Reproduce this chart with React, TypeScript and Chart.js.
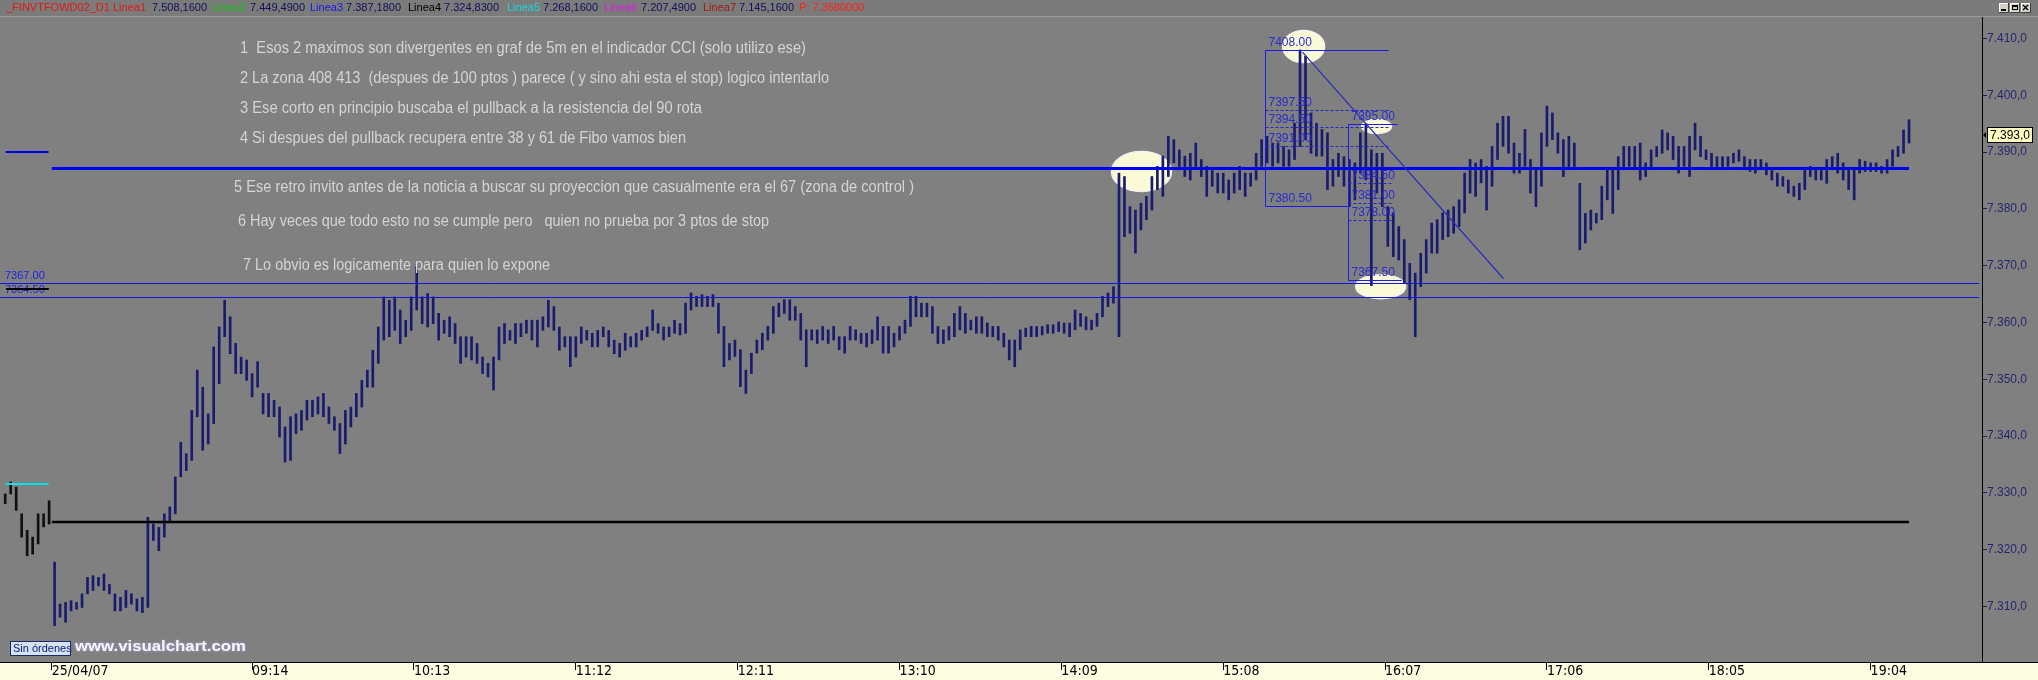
import React, { useEffect, useRef } from 'react';
import { Chart, registerables } from 'chart.js';

Chart.register(...registerables);

// ---------------- DATA ----------------
// 2-minute bars (minutes since midnight), previous-day tail then 25/04/07 session
const firstBarMinute = 464;
const barStepMinutes = 2;
const sessionStartMinute = 481;

const barHigh = [
  7329.8, 7331.9, 7331.0, 7326.3, 7323.4, 7322.2, 7326.3, 7326.3, 7328.6, 7317.8, // 464
  7310.4, 7310.7, 7311.0, 7310.7, 7312.2, 7315.1, 7315.4, 7315.1, 7315.7, 7313.9, // 484
  7312.2, 7311.6, 7312.8, 7312.2, 7311.3, 7311.6, 7325.7, 7324.5, 7323.9, 7326.3, // 504
  7327.5, 7332.8, 7338.9, 7336.9, 7344.5, 7351.6, 7348.6, 7343.9, 7355.7, 7359.2, // 524
  7363.9, 7361.0, 7356.3, 7353.9, 7353.4, 7351.0, 7353.1, 7347.5, 7347.5, 7346.3, // 544
  7345.1, 7341.6, 7343.4, 7343.9, 7344.5, 7346.3, 7346.3, 7346.9, 7347.5, 7345.1, // 564
  7343.4, 7342.2, 7344.5, 7345.1, 7347.5, 7349.8, 7351.6, 7355.1, 7359.2, 7364.5, // 584
  7363.9, 7364.5, 7362.2, 7360.4, 7364.5, 7369.8, 7364.5, 7365.1, 7364.5, 7361.6, // 604
  7360.4, 7361.0, 7359.8, 7357.5, 7357.5, 7357.5, 7356.3, 7353.9, 7352.8, 7353.9, // 624
  7359.2, 7359.8, 7358.6, 7359.8, 7359.8, 7360.4, 7360.4, 7360.4, 7361.0, 7363.9, // 644
  7362.8, 7359.2, 7357.5, 7357.5, 7357.5, 7359.2, 7358.6, 7358.1, 7358.6, 7359.2, // 664
  7358.6, 7356.9, 7356.3, 7358.1, 7357.5, 7358.1, 7358.6, 7359.2, 7362.2, 7359.8, // 684
  7359.2, 7359.2, 7360.4, 7359.8, 7363.4, 7365.2, 7364.6, 7364.9, 7364.6, 7364.9, // 704
  7363.4, 7359.3, 7356.3, 7356.9, 7355.2, 7351.6, 7354.6, 7356.9, 7358.1, 7359.3, // 724
  7362.8, 7363.4, 7364.0, 7364.0, 7362.8, 7361.6, 7358.7, 7358.7, 7358.7, 7359.3, // 744
  7358.7, 7359.3, 7357.5, 7357.5, 7359.3, 7358.7, 7358.1, 7358.1, 7358.7, 7361.0, // 764
  7359.3, 7359.3, 7358.1, 7359.3, 7360.4, 7364.6, 7364.6, 7363.4, 7363.4, 7362.8, // 784
  7359.3, 7358.7, 7359.3, 7361.6, 7362.8, 7361.6, 7360.4, 7361.0, 7361.0, 7359.9, // 804
  7359.3, 7359.3, 7358.1, 7356.9, 7356.9, 7358.7, 7359.0, 7359.3, 7359.3, 7359.3, // 824
  7359.6, 7359.6, 7360.1, 7359.9, 7359.9, 7362.2, 7361.6, 7361.0, 7360.4, 7361.6, // 844
  7364.6, 7365.2, 7366.3, 7386.3, 7385.7, 7380.4, 7379.8, 7381.0, 7382.2, 7385.7, // 864
  7387.5, 7389.3, 7392.8, 7392.2, 7390.4, 7389.3, 7389.8, 7391.6, 7388.7, 7387.5, // 884
  7386.9, 7386.3, 7386.3, 7385.1, 7386.3, 7387.5, 7386.3, 7386.3, 7389.8, 7392.2, // 904
  7392.8, 7391.6, 7391.6, 7391.0, 7390.4, 7395.1, 7408.0, 7406.9, 7396.9, 7395.1, // 924
  7394.0, 7393.4, 7388.7, 7389.8, 7389.2, 7388.7, 7388.1, 7393.4, 7395.0, 7390.4, // 944
  7389.8, 7389.8, 7380.4, 7379.3, 7376.9, 7374.6, 7370.4, 7368.7, 7372.2, 7374.6, // 964
  7377.5, 7378.1, 7379.3, 7379.8, 7380.4, 7381.6, 7386.3, 7388.7, 7388.1, 7388.7, // 984
  7387.5, 7391.0, 7395.1, 7396.3, 7396.3, 7391.6, 7389.8, 7394.0, 7388.7, 7386.9, // 1004
  7393.4, 7398.1, 7396.9, 7393.4, 7392.2, 7392.8, 7391.6, 7384.5, 7379.2, 7379.8, // 1024
  7379.2, 7384.0, 7386.9, 7386.9, 7389.2, 7391.0, 7391.0, 7391.0, 7391.6, 7388.1, // 1044
  7390.4, 7391.0, 7393.9, 7393.4, 7392.8, 7391.0, 7391.0, 7392.8, 7395.1, 7392.8, // 1064
  7390.4, 7389.8, 7389.2, 7389.2, 7389.2, 7389.8, 7390.4, 7389.2, 7388.7, 7388.7, // 1084
  7388.7, 7388.1, 7387.2, 7386.3, 7385.7, 7385.1, 7384.0, 7384.5, 7386.9, 7387.5, // 1104
  7386.9, 7386.9, 7388.7, 7389.2, 7389.8, 7388.1, 7386.9, 7386.9, 7388.7, 7388.4, // 1124
  7388.1, 7388.1, 7387.5, 7388.7, 7390.4, 7391.0, 7393.9, 7395.7,                 // 1144
];

const barLow = [
  7328.1, 7329.8, 7326.9, 7322.2, 7318.9, 7319.2, 7321.0, 7324.0, 7324.5, 7306.6, // 464
  7308.1, 7307.2, 7309.2, 7309.5, 7309.8, 7312.2, 7312.8, 7313.6, 7312.8, 7312.2, // 484
  7309.2, 7309.2, 7309.8, 7310.4, 7309.2, 7308.9, 7309.8, 7321.6, 7319.8, 7322.2, // 504
  7325.1, 7326.3, 7332.8, 7333.9, 7335.7, 7343.4, 7337.5, 7338.6, 7342.2, 7349.2, // 524
  7357.5, 7354.5, 7351.0, 7351.0, 7349.8, 7346.9, 7348.6, 7343.9, 7343.4, 7343.4, // 544
  7339.8, 7335.4, 7335.7, 7340.4, 7341.0, 7342.8, 7343.4, 7343.9, 7343.4, 7342.2, // 564
  7341.0, 7336.9, 7338.6, 7341.6, 7343.4, 7345.1, 7348.6, 7348.6, 7352.8, 7356.9, // 584
  7357.5, 7358.6, 7356.3, 7357.5, 7358.6, 7362.2, 7359.8, 7359.2, 7359.8, 7356.9, // 604
  7358.1, 7357.5, 7356.3, 7352.8, 7353.9, 7353.4, 7352.8, 7351.0, 7350.4, 7348.1, // 624
  7353.4, 7356.3, 7356.9, 7356.3, 7357.5, 7358.1, 7356.9, 7355.7, 7358.6, 7359.2, // 644
  7358.6, 7355.1, 7355.7, 7352.2, 7353.9, 7356.3, 7356.9, 7355.7, 7355.7, 7357.5, // 664
  7355.7, 7354.5, 7353.9, 7355.1, 7355.7, 7355.7, 7356.9, 7357.5, 7358.6, 7358.1, // 684
  7356.9, 7357.5, 7358.1, 7357.8, 7358.1, 7362.2, 7362.8, 7362.8, 7362.8, 7362.8, // 704
  7358.1, 7352.2, 7353.4, 7354.0, 7348.7, 7347.5, 7351.0, 7354.6, 7355.2, 7356.9, // 724
  7358.1, 7361.0, 7361.6, 7360.4, 7360.4, 7356.9, 7352.2, 7356.9, 7356.3, 7356.9, // 744
  7356.3, 7356.9, 7355.2, 7354.6, 7356.9, 7356.9, 7356.3, 7355.7, 7356.3, 7356.9, // 764
  7354.6, 7354.6, 7355.7, 7356.9, 7358.1, 7359.3, 7361.0, 7361.0, 7361.0, 7358.1, // 784
  7356.3, 7356.3, 7356.9, 7357.5, 7358.7, 7358.1, 7358.7, 7358.1, 7358.1, 7357.5, // 804
  7357.5, 7356.9, 7355.7, 7353.4, 7352.2, 7355.2, 7357.5, 7357.5, 7357.5, 7357.8, // 824
  7358.1, 7358.1, 7358.4, 7358.1, 7357.5, 7358.7, 7359.3, 7358.7, 7358.7, 7359.3, // 844
  7361.0, 7362.8, 7363.4, 7357.5, 7375.1, 7375.7, 7372.2, 7376.3, 7378.1, 7379.8, // 864
  7383.4, 7382.2, 7385.7, 7388.1, 7386.9, 7385.7, 7385.1, 7386.9, 7385.7, 7382.2, // 884
  7384.0, 7382.8, 7382.8, 7381.6, 7382.8, 7383.4, 7382.2, 7384.0, 7385.1, 7387.5, // 904
  7388.1, 7387.5, 7388.1, 7387.5, 7387.5, 7388.7, 7391.0, 7392.2, 7389.8, 7389.3, // 924
  7389.3, 7383.4, 7384.0, 7385.7, 7384.0, 7380.4, 7381.6, 7386.3, 7385.1, 7366.5, // 944
  7382.8, 7380.4, 7373.4, 7371.6, 7371.0, 7366.9, 7364.0, 7357.5, 7366.3, 7368.7, // 964
  7372.2, 7372.2, 7374.6, 7375.1, 7375.7, 7376.9, 7379.3, 7382.8, 7382.2, 7384.6, // 984
  7379.8, 7384.0, 7388.7, 7391.0, 7389.8, 7386.3, 7386.3, 7387.5, 7382.8, 7380.4, // 1004
  7384.0, 7391.0, 7392.2, 7389.8, 7385.7, 7386.9, 7386.9, 7372.8, 7374.0, 7376.3, // 1024
  7377.5, 7378.1, 7381.6, 7379.2, 7383.4, 7386.9, 7387.5, 7386.9, 7385.1, 7385.7, // 1044
  7386.9, 7389.2, 7389.8, 7390.4, 7388.7, 7386.3, 7387.5, 7385.7, 7390.4, 7389.2, // 1064
  7388.7, 7386.9, 7386.9, 7386.9, 7387.5, 7388.1, 7388.4, 7386.9, 7386.6, 7386.3, // 1084
  7386.9, 7386.0, 7385.1, 7384.0, 7384.0, 7382.8, 7382.2, 7381.6, 7383.4, 7385.7, // 1104
  7385.1, 7385.1, 7384.5, 7386.9, 7386.3, 7385.1, 7383.4, 7381.6, 7386.3, 7386.6, // 1124
  7386.6, 7386.6, 7386.3, 7386.3, 7387.5, 7389.2, 7389.8, 7391.6,                 // 1144
];

const xTickMinutes = [481, 554, 613, 672, 731, 790, 849, 908, 967, 1026, 1085, 1144];
const xTickLabels = ['25/04/07', '09:14', '10:13', '11:12', '12:11', '13:10', '14:09', '15:08', '16:07', '17:06', '18:05', '19:04'];
const yTickValues = [7310, 7320, 7330, 7340, 7350, 7360, 7370, 7380, 7390, 7400, 7410];
const lastPrice = 7393.0;

const headerNames = ['_FINVTFOWD02_D1 Linea1', 'Linea2', 'Linea3', 'Linea4', 'Linea5', 'Linea6', 'Linea7'];
const lineaValues = [7508.16, 7449.49, 7387.18, 7324.83, 7268.16, 7207.49, 7145.16];
const headerTail = 'P: 7.3580000';

// horizontal reference lines: value, start minute, end minute
const hLineValues = [lineaValues[2], lineaValues[3], 7367.0, 7364.5, 7390.0, 7331.5, 7365.9];
const hLineStart = [481, 481, 462.1, 462.1, 464.2, 464.2, 464.4];
const hLineEnd = [1158, 1158, 1183.5, 1183.5, 479.8, 479.8, 479.8];
const levelLabelValues = [7367.0, 7364.5];

// Fibonacci retracements
const fibStartMinute = [923.1, 953.4];
const fibHigh = [7408.0, 7395.0];
const fibLow = [7380.5, 7367.5];
const fibTopEndMinute = [968.3, 971.6];
const fibLevelEndMinute = [969.0, 969.8];
const fibBottomEndMinute = [953.4, 973.1];
const fibLevelsA = [7397.5, 7394.5, 7391.0];
const fibLevelsB = [7384.5, 7381.0, 7378.0];

// trend line
const trendMinutes = [936.9, 1010.2];
const trendPrices = [7407.6, 7367.7];

// highlighted ellipses (centre)
const ellipseMinutes = [878.2, 937.3, 963.9, 965.4];
const ellipsePrices = [7386.6, 7408.6, 7394.5, 7366.3];

const notes = [
  '1  Esos 2 maximos son divergentes en graf de 5m en el indicador CCI (solo utilizo ese)',
  '2 La zona 408 413  (despues de 100 ptos ) parece ( y sino ahi esta el stop) logico intentarlo',
  '3 Ese corto en principio buscaba el pullback a la resistencia del 90 rota',
  '4 Si despues del pullback recupera entre 38 y 61 de Fibo vamos bien',
  '5 Ese retro invito antes de la noticia a buscar su proyeccion que casualmente era el 67 (zona de control )',
  '6 Hay veces que todo esto no se cumple pero   quien no prueba por 3 ptos de stop',
  '7 Lo obvio es logicamente para quien lo expone',
];

// ---------------- STYLE / LAYOUT ----------------
const W = 2038;
const H = 680;
const SANS = '"Liberation Sans", Arial, sans-serif';
const NARROW = '"Liberation Sans Narrow", "DejaVu Sans Condensed", "Liberation Sans", sans-serif';
const X_MIN = 462.1;
const X_MAX = 1184.6;
const Y_MIN = 7300.2;
const Y_MAX = 7413.8;
const NOTE_POS = [
  [240, 49, 566], [240, 79, 589], [240, 109, 462], [240, 139, 446],
  [234, 188, 680], [238, 222, 531], [243, 266, 307],
];
const ELLIPSE_R = [[30, 20], [21, 16], [15, 7], [25, 12]];
const HLINE_STYLE = [
  { c: '#0000f0', w: 3 }, { c: '#000000', w: 2.5 }, { c: '#1414e0', w: 1 }, { c: '#1414e0', w: 1 },
  { c: '#0000f0', w: 2 }, { c: '#00e4e4', w: 2 }, { c: '#000000', w: 2 },
];
const HEADER_X = [6, 152, 212, 250, 310, 339, 408, 442, 507, 542, 604, 641, 703, 736, 799];
const HEADER_NAME_COLORS = ['#e01818', '#18c018', '#1818e8', '#000000', '#18d8d8', '#e018e0', '#a01818'];

function fmtES(v: number, dec: number): string {
  const s = v.toFixed(dec);
  const [ip, dp] = s.split('.');
  const withSep = ip.replace(/\B(?=(\d{3})+(?!\d))/g, '.');
  return dp !== undefined ? withSep + ',' + dp : withSep;
}

const overlayPlugin = {
  id: 'overlay',
  beforeDraw(chart: any) {
    const { ctx, chartArea } = chart;
    ctx.save();
    ctx.fillStyle = '#808080';
    ctx.fillRect(0, 0, W, H);
    ctx.fillStyle = '#7b7b7b';
    ctx.fillRect(0, 0, W, 16);
    ctx.fillStyle = '#999999';
    ctx.fillRect(0, 16, W, 1);
    ctx.fillStyle = '#fdfde2';
    ctx.fillRect(0, chartArea.bottom, W, H - chartArea.bottom);
    ctx.restore();
  },
  beforeDatasetsDraw(chart: any) {
    const { ctx } = chart;
    const xs = chart.scales.x;
    const ys = chart.scales.y;
    ctx.save();
    ellipseMinutes.forEach((m, i) => {
      ctx.beginPath();
      ctx.ellipse(xs.getPixelForValue(m), ys.getPixelForValue(ellipsePrices[i]), ELLIPSE_R[i][0], ELLIPSE_R[i][1], 0, 0, Math.PI * 2);
      ctx.fillStyle = '#fafad6';
      ctx.fill();
      ctx.lineWidth = 1.5;
      ctx.strokeStyle = '#f2f2f2';
      ctx.stroke();
    });
    ctx.restore();
  },
  afterDatasetsDraw(chart: any) {
    const { ctx } = chart;
    const xs = chart.scales.x;
    const ys = chart.scales.y;
    const X = (m: number) => xs.getPixelForValue(m);
    const Y = (p: number) => ys.getPixelForValue(p);
    const crisp = (y: number, w: number) => (w % 2 === 1 ? Math.round(y) + 0.5 : Math.round(y));
    const line = (x0: number, y0: number, x1: number, y1: number) => {
      ctx.beginPath();
      ctx.moveTo(x0, y0);
      ctx.lineTo(x1, y1);
      ctx.stroke();
    };
    ctx.save();

    hLineValues.forEach((v, i) => {
      const st = HLINE_STYLE[i];
      ctx.strokeStyle = st.c;
      ctx.lineWidth = st.w;
      const y = crisp(Y(v), st.w);
      line(X(hLineStart[i]), y, X(hLineEnd[i]), y);
    });

    ctx.font = '11px ' + SANS;
    ctx.fillStyle = '#2020e8';
    ctx.textBaseline = 'alphabetic';
    ctx.textAlign = 'left';
    levelLabelValues.forEach((v) => {
      ctx.fillText(v.toFixed(2), 5, Y(v) - 4);
    });
    ctx.strokeStyle = '#000';
    ctx.lineWidth = 2;
    line(X(464.4), Math.round(Y(7365.9)), X(479.8), Math.round(Y(7365.9)));

    const drawFib = (i: number, levels: number[]) => {
      const x0 = Math.round(X(fibStartMinute[i])) + 0.5;
      const yT = Math.round(Y(fibHigh[i])) + 0.5;
      const yB = Math.round(Y(fibLow[i])) + 0.5;
      ctx.setLineDash([]);
      ctx.strokeStyle = '#1c1ce6';
      ctx.lineWidth = 1;
      line(x0, yT, X(fibTopEndMinute[i]), yT);
      line(x0, yB, X(fibBottomEndMinute[i]), yB);
      line(x0, yT, x0, yB);
      ctx.setLineDash([3, 2]);
      ctx.strokeStyle = '#2626c8';
      levels.forEach((l) => {
        const y = Math.round(Y(l)) + 0.5;
        line(x0, y, X(fibLevelEndMinute[i]), y);
      });
      ctx.setLineDash([]);
      ctx.font = '12px ' + SANS;
      ctx.fillStyle = '#2a2ad0';
      [fibHigh[i], ...levels, fibLow[i]].forEach((v) => {
        ctx.fillText(v.toFixed(2), x0 + 3, Y(v) - 4);
      });
    };
    drawFib(0, fibLevelsA);
    drawFib(1, fibLevelsB);

    ctx.strokeStyle = '#2c2cb8';
    ctx.lineWidth = 1.2;
    line(X(trendMinutes[0]), Y(trendPrices[0]), X(trendMinutes[1]), Y(trendPrices[1]));

    ctx.font = '16px ' + SANS;
    ctx.fillStyle = '#d4d4d4';
    ctx.textBaseline = 'middle';
    notes.forEach((t, i) => {
      const [nx, ny, nw] = NOTE_POS[i];
      const w = ctx.measureText(t).width;
      ctx.save();
      ctx.translate(nx, ny);
      ctx.scale(nw / w, 1);
      ctx.fillText(t, 0, 0);
      ctx.restore();
    });
    ctx.restore();
  },
  afterDraw(chart: any) {
    const { ctx, chartArea } = chart;
    const ys = chart.scales.y;
    ctx.save();
    ctx.fillStyle = '#000';
    ctx.fillRect(0, chartArea.bottom, W, 1);

    // header (sequential, never overlapping)
    ctx.font = '11px ' + SANS;
    ctx.textBaseline = 'middle';
    ctx.textAlign = 'left';
    const items: { t: string; c: string }[] = [];
    headerNames.forEach((n, i) => {
      items.push({ t: n, c: HEADER_NAME_COLORS[i] });
      items.push({ t: fmtES(lineaValues[i], 4), c: '#10105a' });
    });
    items.push({ t: headerTail, c: '#ff2020' });
    let prevEnd = 0;
    items.forEach((it, k) => {
      const x = Math.max(HEADER_X[k], prevEnd + 3);
      ctx.fillStyle = it.c;
      ctx.fillText(it.t, x, 8);
      prevEnd = x + ctx.measureText(it.t).width;
    });

    // window buttons
    const bx = [1999, 2010, 2021];
    bx.forEach((x, i) => {
      ctx.fillStyle = '#d4d0c8';
      ctx.fillRect(x, 3, 10, 10);
      ctx.fillStyle = '#ffffff';
      ctx.fillRect(x, 3, 10, 1);
      ctx.fillRect(x, 3, 1, 10);
      ctx.fillStyle = '#404040';
      ctx.fillRect(x, 12, 10, 1);
      ctx.fillRect(x + 9, 3, 1, 10);
      ctx.fillStyle = '#000';
      if (i === 0) ctx.fillRect(x + 2, 9, 5, 2);
      if (i === 1) { ctx.strokeStyle = '#000'; ctx.lineWidth = 1; ctx.strokeRect(x + 2.5, 5.5, 5, 4); ctx.fillRect(x + 2, 5, 6, 2); }
      if (i === 2) {
        ctx.strokeStyle = '#000'; ctx.lineWidth = 1.4;
        ctx.beginPath(); ctx.moveTo(x + 2, 5); ctx.lineTo(x + 7, 10); ctx.moveTo(x + 7, 5); ctx.lineTo(x + 2, 10); ctx.stroke();
      }
    });

    // last price box
    const ly = ys.getPixelForValue(lastPrice);
    ctx.fillStyle = '#ffffc4';
    ctx.fillRect(1987, Math.round(ly) - 8, 46, 16);
    ctx.strokeStyle = '#000';
    ctx.lineWidth = 1;
    ctx.strokeRect(1987.5, Math.round(ly) - 7.5, 45, 15);
    ctx.fillStyle = '#000';
    ctx.font = '12px ' + SANS;
    ctx.fillText(fmtES(lastPrice, 1), 1990, Math.round(ly) + 0.5);
    ctx.beginPath();
    ctx.moveTo(1983, Math.round(ly));
    ctx.lineTo(1986, Math.round(ly) - 3);
    ctx.lineTo(1986, Math.round(ly) + 3);
    ctx.closePath();
    ctx.fill();

    // "Sin órdenes" box
    ctx.fillStyle = '#d6e2f6';
    ctx.fillRect(10, 641, 61, 15);
    ctx.strokeStyle = '#1a2a6a';
    ctx.strokeRect(10.5, 641.5, 60, 14);
    ctx.fillStyle = '#102070';
    ctx.font = '11px ' + SANS;
    ctx.fillText('Sin órdenes', 13, 649);

    // watermark
    ctx.font = 'bold 15px ' + SANS;
    const wt = 'www.visualchart.com';
    const ww = ctx.measureText(wt).width;
    ctx.save();
    ctx.translate(75, 647);
    ctx.scale(171 / ww, 1);
    ctx.shadowColor = '#a8a8d8';
    ctx.shadowBlur = 3;
    ctx.fillStyle = '#f6f6ff';
    ctx.fillText(wt, 0, 0);
    ctx.restore();
    ctx.restore();
  },
};

export default function App() {
  const ref = useRef<HTMLCanvasElement>(null);
  useEffect(() => {
    document.body.style.margin = '0';
    document.body.style.background = '#808080';
    const canvas = ref.current;
    if (!canvas) return;
    const bars = barHigh.slice(0, barLow.length).map((h, i) => ({
      x: firstBarMinute + i * barStepMinutes,
      y: [barLow[i], h],
    }));
    const chart = new Chart(canvas, {
      type: 'bar',
      data: {
        datasets: [
          {
            data: bars as any,
            backgroundColor: (c: any) => (c.raw && c.raw.x < sessionStartMinute ? '#101014' : '#1a1a6e'),
            borderWidth: 0,
            barThickness: 2,
          } as any,
        ],
      },
      options: {
        responsive: false,
        animation: false,
        devicePixelRatio: 1,
        events: [],
        layout: { padding: { top: 17, left: 0, right: 0, bottom: 0 } },
        plugins: { legend: { display: false }, tooltip: { enabled: false }, title: { display: false } },
        scales: {
          x: {
            type: 'linear',
            position: 'bottom',
            min: X_MIN,
            max: X_MAX,
            offset: false,
            grid: { display: true, offset: false, drawOnChartArea: false, drawTicks: true, tickLength: 8, color: '#000000' },
            border: { display: true, color: '#000000', width: 1 },
            afterBuildTicks: (s: any) => { s.ticks = xTickMinutes.map((v) => ({ value: v })); },
            afterFit: (s: any) => { s.height = 18; },
            ticks: {
              autoSkip: false,
              maxRotation: 0,
              minRotation: 0,
              align: 'start',
              padding: -7,
              color: '#000000',
              font: { family: NARROW, size: 14 },
              callback: (_v: any, i: number) => xTickLabels[i],
            },
          },
          y: {
            type: 'linear',
            position: 'right',
            min: Y_MIN,
            max: Y_MAX,
            grid: { display: true, drawOnChartArea: false, drawTicks: true, tickLength: 5, color: '#202050' },
            border: { display: true, color: '#000000', width: 1 },
            afterBuildTicks: (s: any) => { s.ticks = yTickValues.map((v) => ({ value: v })); },
            afterFit: (s: any) => { s.width = 56; },
            ticks: {
              padding: 0,
              color: '#26266e',
              font: { family: SANS, size: 12 },
              callback: (v: any) => fmtES(Number(v), 1),
            },
          },
        },
      } as any,
      plugins: [overlayPlugin],
    });
    return () => chart.destroy();
  }, []);
  return (
    <div style={{ width: W, height: H, overflow: 'hidden' }}>
      <canvas ref={ref} width={W} height={H} style={{ display: 'block' }} />
    </div>
  );
}
